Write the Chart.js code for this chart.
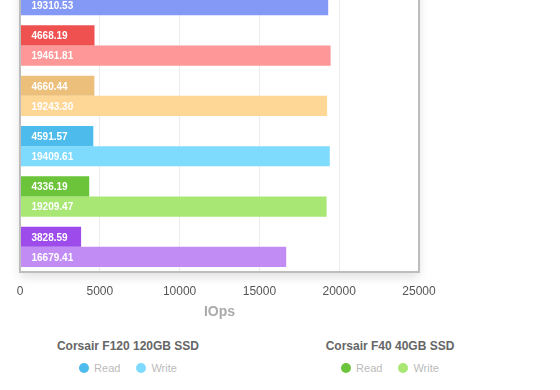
<!DOCTYPE html>
<html>
<head>
<meta charset="utf-8">
<script src="https://cdn.jsdelivr.net/npm/chart.js@4.4.0/dist/chart.umd.min.js"></script>
<style>
  html, body { margin: 0; padding: 0; background: #fff; overflow: hidden; width: 560px; height: 390px; }
  #wrap { position: absolute; left: 0; top: -30px; width: 560px; height: 360px; }
  .group { position: absolute; top: 337px; width: 240px; text-align: center; font-family: "Liberation Sans", Arial, sans-serif; }
  .group .title { font-size: 12px; font-weight: bold; color: #666; height: 18px; line-height: 18px; }
  .group .items { margin-top: 7px; font-size: 11px; color: #bbb; line-height: 13px; }
  .group .item { display: inline-block; margin: 0 8px; }
  .group .dot { display: inline-block; width: 10px; height: 10px; border-radius: 50%; vertical-align: -1px; margin-right: 5px; }
</style>
</head>
<body>
<div id="wrap"><canvas id="chart"></canvas></div>
<div id="legend"></div>
<script>
// drives, top to bottom (first one is partly cut off at the top)
const drives = ['SSD A', 'SSD B', 'SSD C', 'Corsair F120 120GB SSD', 'Corsair F40 40GB SSD', 'SSD D'];
const readValues = [4700.00, 4668.19, 4660.44, 4591.57, 4336.19, 3828.59];
const writeValues = [19310.53, 19461.81, 19243.30, 19409.61, 19209.47, 16679.41];
const readColors = ['#5f78ee', '#ef5151', '#ecc07a', '#4dbcec', '#6cc43a', '#9d4bea'];
const writeColors = ['#8399f5', '#fe9797', '#fed797', '#7fdbfe', '#a8e774', '#c28cf5'];
const xTicks = [0, 5000, 10000, 15000, 20000, 25000];
const legendDrives = [3, 4];
const legendCenters = [128, 390];

const plotFrame = {
	id: 'plotFrame',
	beforeDraw(chart) {
		const a = chart.chartArea, ctx = chart.ctx;
		ctx.save();
		ctx.shadowColor = 'rgba(0,0,0,0.12)';
		ctx.shadowBlur = 10;
		ctx.shadowOffsetY = 5;
		ctx.fillStyle = '#fff';
		ctx.fillRect(a.left, a.top, a.right - a.left, a.bottom - a.top);
		ctx.restore();
	},
	afterDatasetsDraw(chart) {
		const a = chart.chartArea, ctx = chart.ctx;
		ctx.save();
		ctx.strokeStyle = '#bdbdbd';
		ctx.lineWidth = 2;
		ctx.strokeRect(a.left, a.top, a.right - a.left, a.bottom - a.top);
		// value labels inside the bars
		ctx.font = 'bold 10px "Liberation Sans", Arial, sans-serif';
		ctx.fillStyle = '#fff';
		ctx.textBaseline = 'middle';
		chart.data.datasets.forEach((ds, i) => {
			chart.getDatasetMeta(i).data.forEach((bar, j) => {
				ctx.fillText(ds.data[j].toFixed(2), bar.base + 11, bar.y + 1);
			});
		});
		ctx.restore();
	}
};

new Chart(document.getElementById('chart'), {
	type: 'bar',
	data: {
		labels: drives,
		datasets: [{
			label: 'Read',
			data: readValues,
			backgroundColor: readColors,
			borderWidth: 0,
			categoryPercentage: 0.8,
			barPercentage: 1.0
		}, {
			label: 'Write',
			data: writeValues,
			backgroundColor: writeColors,
			borderWidth: 0,
			categoryPercentage: 0.8,
			barPercentage: 1.0
		}]
	},
	options: {
		indexAxis: 'y',
		responsive: true,
		maintainAspectRatio: false,
		animation: false,
		layout: { padding: { left: 20, right: 141, top: 0, bottom: 9 } },
		scales: {
			x: {
				min: 0,
				max: 25000,
				afterBuildTicks: (scale) => { scale.ticks = xTicks.map(v => ({ value: v })); },
				afterFit: (scale) => { scale.height = 49; },
				ticks: {
					padding: 12,
					color: '#555',
					callback: (v) => String(v),
					font: { family: '"Liberation Sans", Arial, sans-serif', size: 12 }
				},
				grid: { color: '#ececec', drawTicks: false },
				border: { display: false },
				title: {
					display: true,
					text: 'IOps',
					color: '#aaa',
					padding: { top: 0, bottom: 0 },
					font: { family: '"Liberation Sans", Arial, sans-serif', size: 14, weight: 'bold' }
				}
			},
			y: { display: false }
		},
		plugins: {
			legend: { display: false },
			tooltip: { enabled: false }
		}
	},
	plugins: [plotFrame]
});

// drive legend below the chart
const legend = document.getElementById('legend');
legendDrives.forEach((d, k) => {
	const g = document.createElement('div');
	g.className = 'group';
	g.style.left = (legendCenters[k] - 120) + 'px';
	g.innerHTML = '<div class="title">' + drives[d] + '</div>' +
		'<div class="items">' +
		'<span class="item"><span class="dot" style="background:' + readColors[d] + '"></span>Read</span>' +
		'<span class="item"><span class="dot" style="background:' + writeColors[d] + '"></span>Write</span>' +
		'</div>';
	legend.appendChild(g);
});
</script>
</body>
</html>
